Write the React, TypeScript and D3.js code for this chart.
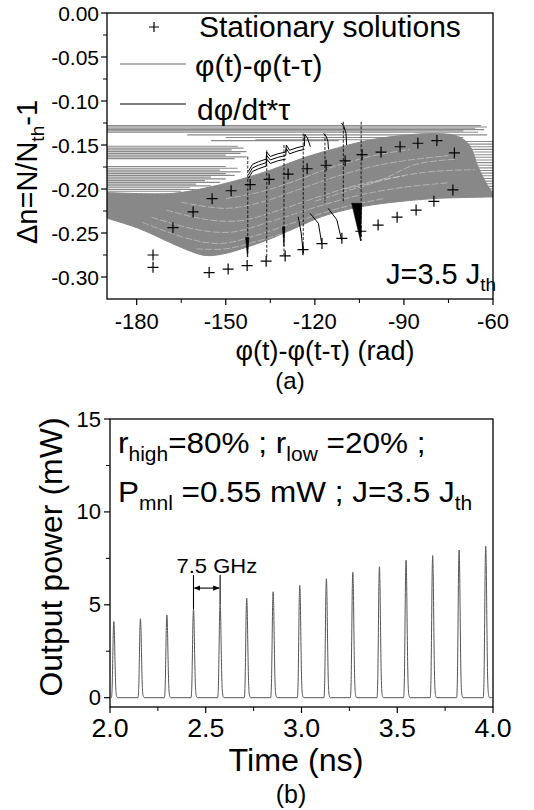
import React from "react";
import * as d3 from "d3";

const FONT = "'Liberation Sans', Arial, Helvetica, sans-serif";

// ---------- Panel (a) data ----------
const xTicksA = [-180, -150, -120, -90, -60];
const xMinorA = [-165, -135, -105, -75];
const yTicksA = [0, -0.05, -0.1, -0.15, -0.2, -0.25, -0.3];
const yMinorA = [-0.025, -0.075, -0.125, -0.175, -0.225, -0.275];

// stationary solutions [phase, dn]
const stationary: [number, number][] = [
  [-174.5, -0.275], [-174.5, -0.289], [-167.8, -0.244], [-161.0, -0.226], [-154.6, -0.211],
  [-148.2, -0.202], [-141.8, -0.195], [-135.4, -0.189], [-129.0, -0.183], [-122.6, -0.177],
  [-116.2, -0.173], [-109.8, -0.168], [-104.1, -0.161], [-97.7, -0.158], [-91.3, -0.152],
  [-85.3, -0.148], [-78.9, -0.145], [-73.0, -0.159], [-73.5, -0.201], [-79.9, -0.214],
  [-85.9, -0.224], [-92.3, -0.232], [-98.7, -0.241], [-104.5, -0.248], [-110.9, -0.256],
  [-117.6, -0.262], [-124.0, -0.269], [-130.0, -0.276], [-136.4, -0.282], [-142.8, -0.287],
  [-149.2, -0.291], [-155.6, -0.295],
];

// horizontal trajectory segments [x0, x1, dn]
const flatLines: [number, number, number][] = [
  [-190, -64, -0.128], [-190, -62, -0.1295], [-190, -66, -0.131], [-190, -63, -0.1325],
  [-190, -70, -0.134], [-190, -65, -0.1355], [-163, -62, -0.1385], [-150, -70, -0.1415],
  [-155, -112, -0.145], [-140, -75, -0.144],
  [-190, -146, -0.1515], [-190, -144, -0.1535], [-190, -148, -0.1555], [-190, -143, -0.1575],
  [-190, -145, -0.1595], [-190, -150, -0.1615], [-190, -143, -0.1635], [-190, -147, -0.1655],
  [-190, -150, -0.1745], [-190, -146, -0.1765], [-190, -152, -0.1785], [-190, -145, -0.1805],
  [-190, -150, -0.1825], [-190, -147, -0.1845], [-190, -155, -0.1865], [-190, -150, -0.1885],
  [-190, -157, -0.1905], [-190, -152, -0.1925], [-190, -160, -0.1945], [-190, -155, -0.1965],
  [-190, -162, -0.1985], [-190, -160, -0.2005], [-190, -165, -0.2025],
  [-82, -60, -0.146], [-78, -60, -0.149], [-85, -60, -0.152], [-80, -60, -0.155],
  [-76, -60, -0.158], [-83, -60, -0.161], [-79, -60, -0.164], [-86, -60, -0.167],
  [-81, -60, -0.17], [-77, -60, -0.173], [-84, -60, -0.176], [-80, -60, -0.179],
  [-87, -60, -0.182], [-82, -60, -0.185], [-78, -60, -0.188], [-85, -60, -0.191],
  [-81, -60, -0.194], [-88, -60, -0.197], [-83, -60, -0.2], [-79, -60, -0.203], [-86, -60, -0.206],
];

// dense trajectory band: upper and lower envelopes
const bandUpper: [number, number][] = [
  [-190, -0.204], [-168, -0.205], [-157, -0.199], [-146, -0.19], [-134.5, -0.178],
  [-123.3, -0.164], [-112, -0.153], [-101, -0.144], [-90, -0.139], [-80, -0.137],
  [-72, -0.14], [-68, -0.15], [-65, -0.175], [-62, -0.195], [-60, -0.205],
];
const bandLower: [number, number][] = [
  [-190, -0.2333], [-179.4, -0.2447], [-168.2, -0.2617], [-161.5, -0.2712], [-157, -0.2755],
  [-151.4, -0.2742], [-142.4, -0.2655], [-134.5, -0.256], [-125.6, -0.2428], [-117.7, -0.2314],
  [-109.8, -0.2239], [-100.9, -0.2182], [-89.6, -0.2136], [-78.4, -0.2106], [-60, -0.209],
];
// light streaks inside the band
const bandStreaks: [number, number][][] = [
  [[-178, -0.238], [-163, -0.256], [-152, -0.262], [-140, -0.253], [-126, -0.237], [-112, -0.222], [-97, -0.211]],
  [[-175, -0.232], [-160, -0.246], [-148, -0.249], [-135, -0.237], [-120, -0.221], [-105, -0.207], [-90, -0.198], [-75, -0.193]],
  [[-170, -0.224], [-156, -0.235], [-145, -0.236], [-132, -0.224], [-118, -0.208], [-104, -0.194], [-90, -0.185]],
  [[-165, -0.215], [-150, -0.222], [-138, -0.215], [-125, -0.2], [-112, -0.185], [-100, -0.174], [-88, -0.167], [-75, -0.162]],
  [[-150, -0.211], [-138, -0.203], [-126, -0.19], [-114, -0.175], [-100, -0.162], [-88, -0.155]],
  [[-120, -0.214], [-105, -0.198], [-92, -0.186], [-80, -0.18], [-66, -0.178]],
  [[-110, -0.2], [-98, -0.19], [-86, -0.172], [-72, -0.166]],
  [[-160, -0.268], [-150, -0.268], [-138, -0.258], [-124, -0.243]],
];

// d(phi)/dt*tau curves (black)
const blackDrops: [number, number, number][] = [
  [-142.6, -0.163, -0.277], [-136.2, -0.156, -0.279], [-130.4, -0.15, -0.275],
  [-123.9, -0.137, -0.273], [-116.6, -0.137, -0.215], [-110.4, -0.1235, -0.216],
  [-104.4, -0.1235, -0.259],
];
const blackCurves: [number, number][][] = [
  [[-142.4, -0.18], [-141, -0.172], [-139, -0.169], [-136.4, -0.166], [-136.2, -0.158], [-135, -0.163], [-132.5, -0.16], [-129.8, -0.158], [-129.6, -0.15], [-128.5, -0.156], [-126, -0.153], [-123.5, -0.151], [-123.4, -0.138], [-122.5, -0.142], [-121.5, -0.152]],
  [[-142.4, -0.184], [-141, -0.176], [-139, -0.173], [-136.4, -0.17], [-136.2, -0.162], [-135, -0.167], [-132.5, -0.164], [-129.8, -0.162], [-129.6, -0.154], [-128.5, -0.16], [-126, -0.157], [-123.5, -0.155]],
  [[-142.4, -0.188], [-141, -0.18], [-139, -0.177], [-136.4, -0.174], [-136.2, -0.166], [-135, -0.171], [-132.5, -0.168], [-129.8, -0.166]],
  [[-117.1, -0.137], [-116.2, -0.14], [-115.6, -0.146], [-115.4, -0.155]],
  [[-111.0, -0.125], [-110.2, -0.129], [-109.5, -0.137], [-109.3, -0.15]],
  [[-121.6, -0.2277], [-118.8, -0.239], [-117.7, -0.2617]],
  [[-115.5, -0.222], [-112.6, -0.235], [-111.0, -0.258]],
  [[-125.6, -0.2315], [-124.6, -0.25], [-123.9, -0.273]],
];
const blackWedges: [number, number][][] = [
  [[-143.3, -0.255], [-142.2, -0.255], [-142.7, -0.277]],
  [[-107.6, -0.2163], [-104.2, -0.2163], [-104.6, -0.259]],
  [[-130.9, -0.243], [-130.1, -0.243], [-130.4, -0.265]],
];

// ---------- Panel (b) data ----------
const xTicksB = [2.0, 2.5, 3.0, 3.5, 4.0];
const xMinorB = [2.25, 2.75, 3.25, 3.75];
const yTicksB = [0, 5, 10, 15];
const yMinorB = [2.5, 7.5, 12.5];
const peakTimes = [2.02, 2.159, 2.297, 2.436, 2.575, 2.714, 2.852, 2.991, 3.13, 3.268, 3.407, 3.546, 3.685, 3.823, 3.962];
const peakPowers = [4.1, 4.25, 4.45, 4.75, 5.05, 5.35, 5.7, 6.05, 6.4, 6.75, 7.05, 7.4, 7.65, 7.95, 8.15];
// pulse shape: [time offset (ns), fraction of peak]
const pulseShape: [number, number][] = [
  [-0.013, 0], [-0.009, 0.12], [-0.006, 0.45], [-0.003, 0.85], [-0.001, 0.98], [0, 1], [0.001, 0.98],
  [0.003, 0.85], [0.006, 0.5], [0.009, 0.2], [0.012, 0.06], [0.016, 0.012], [0.021, 0],
];

function SText(props: { x: number; y: number; sx?: number; size: number; anchor?: string; children: React.ReactNode }) {
  const { x, y, sx = 1, size, anchor = "start", children } = props;
  return (
    <text transform={`translate(${x},${y}) scale(${sx},1)`} fontSize={size} textAnchor={anchor}>
      {children}
    </text>
  );
}

export default function App() {
  const xA = d3.scaleLinear().domain([-190, -60]).range([107, 493]);
  const yA = d3.scaleLinear().domain([-0.325, 0]).range([299, 13]);
  const xB = d3.scaleLinear().domain([2, 4]).range([110, 493]);
  const yB = d3.scaleLinear().domain([-0.5, 15]).range([707, 419]);

  const lineA = d3.line<[number, number]>().x((d) => xA(d[0])).y((d) => yA(d[1]));
  const smoothA = d3
    .line<[number, number]>()
    .x((d) => xA(d[0]))
    .y((d) => yA(d[1]))
    .curve(d3.curveCatmullRom);

  const bandPath =
    (smoothA(bandUpper) || "") +
    (smoothA([...bandLower].reverse()) || "").replace(/^M/, "L") +
    "Z";

  const trace: [number, number][] = [[2.0, 0]];
  peakTimes.forEach((t, i) => {
    pulseShape.forEach(([dt, f]) => trace.push([t + dt, peakPowers[i] * f]));
  });
  trace.push([4.0, 0]);
  const lineB = d3
    .line<[number, number]>()
    .x((d) => xB(d[0]))
    .y((d) => yB(d[1]))
    .curve(d3.curveMonotoneX);

  const plus = (cx: number, cy: number, s: number) =>
    `M${cx - s},${cy}H${cx + s}M${cx},${cy - s}V${cy + s}`;

  const p4 = 3, p5 = 4;
  const annTop = 6.6, arrowY = 5.9;

  return (
    <svg width={534} height={810} style={{ position: "absolute", left: 0, top: 0, background: "#fff" }} fontFamily={FONT}>
      <defs>
        <clipPath id="clipA">
          <rect x={107} y={13} width={386} height={286} />
        </clipPath>
        <marker id="arr" viewBox="0 0 10 10" refX="9" refY="5" markerWidth="6" markerHeight="6" orient="auto-start-reverse">
          <path d="M0,1L10,5L0,9Z" fill="#000" />
        </marker>
      </defs>

      {/* ===== Panel (a) ===== */}
      <g clipPath="url(#clipA)">
        {flatLines.map(([x0, x1, y], i) => (
          <line key={"fl" + i} x1={xA(x0)} x2={xA(x1)} y1={yA(y)} y2={yA(y)} stroke="#8a8a8a" strokeWidth={1.1} />
        ))}
        <path d={bandPath} fill="#888" stroke="#888" strokeWidth={1} />
        {bandStreaks.map((s, i) => (
          <path key={"st" + i} d={smoothA(s) || ""} fill="none" stroke="#fff" strokeOpacity={0.4} strokeWidth={0.9} strokeDasharray="7,2" />
        ))}
        {blackDrops.map(([x, y0, y1], i) => (
          <line key={"bd" + i} x1={xA(x)} x2={xA(x)} y1={yA(y0)} y2={yA(y1)} stroke="#000" strokeOpacity={0.75} strokeWidth={1.1} strokeDasharray="3,1.5" />
        ))}
        {blackCurves.map((c, i) => (
          <path key={"bc" + i} d={lineA(c) || ""} fill="none" stroke="#000" strokeWidth={1} />
        ))}
        {blackWedges.map((w, i) => (
          <path key={"bw" + i} d={(lineA(w) || "") + "Z"} fill="#000" stroke="#000" strokeWidth={0.6} />
        ))}
        {stationary.map(([x, y], i) => (
          <path key={"ss" + i} d={plus(xA(x), yA(y), 5.5)} stroke="#000" strokeWidth={1.2} />
        ))}
      </g>

      {/* frame A */}
      <rect x={107} y={13} width={386} height={286} fill="none" stroke="#000" strokeWidth={1.3} />
      {xTicksA.map((t) => (
        <g key={"xa" + t}>
          <line x1={xA(t)} x2={xA(t)} y1={299} y2={305} stroke="#000" strokeWidth={1.2} />
          <text x={xA(t)} y={329} fontSize={22} textAnchor="middle">{t}</text>
        </g>
      ))}
      {xMinorA.map((t) => (
        <line key={"xma" + t} x1={xA(t)} x2={xA(t)} y1={299} y2={303} stroke="#000" strokeWidth={1} />
      ))}
      {yTicksA.map((t) => (
        <g key={"ya" + t}>
          <line x1={101} x2={107} y1={yA(t)} y2={yA(t)} stroke="#000" strokeWidth={1.2} />
          <text x={99} y={yA(t) + 7.5} fontSize={21} textAnchor="end">{t === 0 ? "0.00" : t.toFixed(2)}</text>
        </g>
      ))}
      {yMinorA.map((t) => (
        <line key={"yma" + t} x1={103} x2={107} y1={yA(t)} y2={yA(t)} stroke="#000" strokeWidth={1} />
      ))}

      {/* legend */}
      <path d={plus(154, 27, 5)} stroke="#000" strokeWidth={1.2} />
      <SText x={199} y={37} size={30}>Stationary solutions</SText>
      <line x1={120} x2={186} y1={64} y2={64} stroke="#9a9a9a" strokeWidth={1.5} />
      <SText x={195} y={76} size={30}>φ(t)-φ(t-τ)</SText>
      <line x1={120} x2={186} y1={104} y2={104} stroke="#555" strokeWidth={1.5} />
      <SText x={197} y={120} size={30}>dφ/dt*τ</SText>

      <text x={386} y={284} fontSize={29}>
        J=3.5 J<tspan fontSize={19} dy={7}>th</tspan>
      </text>

      <text x={325} y={360} fontSize={27} textAnchor="middle">φ(t)-φ(t-τ) (rad)</text>
      <text x={290} y={389} fontSize={24} textAnchor="middle">(a)</text>
      <text transform="translate(37,172) rotate(-90)" fontSize={29} textAnchor="middle">
        Δn=N/N<tspan fontSize={19} dy={7}>th</tspan><tspan dy={-7}>-1</tspan>
      </text>

      {/* ===== Panel (b) ===== */}
      <rect x={110} y={419} width={383} height={288} fill="none" stroke="#000" strokeWidth={1.3} />
      <path d={lineB(trace) || ""} fill="none" stroke="#555" strokeWidth={1} />
      {xTicksB.map((t) => (
        <g key={"xb" + t}>
          <line x1={xB(t)} x2={xB(t)} y1={707} y2={713} stroke="#000" strokeWidth={1.2} />
          <SText x={xB(t)} y={737} sx={1.07} size={25} anchor="middle">{t.toFixed(1)}</SText>
        </g>
      ))}
      {xMinorB.map((t) => (
        <line key={"xmb" + t} x1={xB(t)} x2={xB(t)} y1={707} y2={711} stroke="#000" strokeWidth={1} />
      ))}
      {yTicksB.map((t) => (
        <g key={"yb" + t}>
          <line x1={104} x2={110} y1={yB(t)} y2={yB(t)} stroke="#000" strokeWidth={1.2} />
          <text x={101} y={yB(t) + 7.5} fontSize={22} textAnchor="end">{t}</text>
        </g>
      ))}
      {yMinorB.map((t) => (
        <line key={"ymb" + t} x1={106} x2={110} y1={yB(t)} y2={yB(t)} stroke="#000" strokeWidth={1} />
      ))}

      {/* 7.5 GHz annotation */}
      <line x1={xB(peakTimes[p4])} x2={xB(peakTimes[p4])} y1={yB(annTop)} y2={yB(peakPowers[p4])} stroke="#000" strokeWidth={1.1} />
      <line x1={xB(peakTimes[p5])} x2={xB(peakTimes[p5])} y1={yB(annTop)} y2={yB(peakPowers[p5])} stroke="#000" strokeWidth={1.1} />
      <line
        x1={xB(peakTimes[p4]) + 1}
        x2={xB(peakTimes[p5]) - 1}
        y1={yB(arrowY)}
        y2={yB(arrowY)}
        stroke="#000"
        strokeWidth={1.1}
        markerStart="url(#arr)"
        markerEnd="url(#arr)"
      />
      <SText x={xB(peakTimes[p4]) - 17} y={573} sx={1.1} size={20}>7.5 GHz</SText>

      <SText x={118} y={453} sx={1.05} size={30}>
        r<tspan fontSize={20} dy={8}>high</tspan>
        <tspan dy={-8}>=80% ; r</tspan>
        <tspan fontSize={20} dy={8}>low</tspan>
        <tspan dy={-8}> =20% ;</tspan>
      </SText>
      <SText x={118} y={502} sx={1.05} size={30}>
        P<tspan fontSize={20} dy={8}>mnl</tspan>
        <tspan dy={-8}> =0.55 mW ; J=3.5 J</tspan>
        <tspan fontSize={20} dy={8}>th</tspan>
      </SText>

      <SText x={296} y={771} sx={1.04} size={31} anchor="middle">Time (ns)</SText>
      <text x={291} y={803} fontSize={25} textAnchor="middle">(b)</text>
      <text transform="translate(62,557) rotate(-90)" fontSize={32} textAnchor="middle">Output power (mW)</text>
    </svg>
  );
}
